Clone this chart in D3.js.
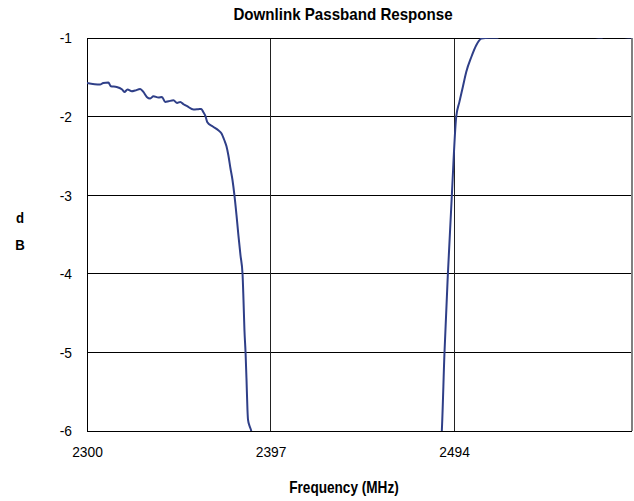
<!DOCTYPE html>
<html><head><meta charset="utf-8">
<script src="https://cdn.jsdelivr.net/npm/d3@7"></script>
<style>body{margin:0;background:#fff;} svg{display:block;}</style>
</head><body>
<svg id="c" width="634" height="501"></svg>
<script>
// ---- data ----
const xTickLabels = [2300, 2397, 2494];
const yTickLabels = [-1, -2, -3, -4, -5, -6];
// low-band edge (MHz, dB)
const lowFreq = [2300,2306.9,2308.6,2311.3,2312.6,2315.7,2318.4,2319.8,2321.4,2323.7,2325.4,2328.1,2329.8,2331.6,2333.4,2335.1,2337.8,2339.6,2341.3,2343.1,2345.7,2347.6,2349.3,2351.0,2352.9,2356.3,2358.8,2360.4,2361.5,2362.6,2363.6,2366.3,2369.4,2371.0,2372.6,2373.7,2374.7,2375.8,2376.9,2377.9,2379.0,2380.0,2381.1,2382.2,2382.7,2383.2,2383.8,2384.3,2384.8,2385.1,2385.9,2386.9,2387.5];
const lowDb = [-1.572,-1.592,-1.572,-1.567,-1.614,-1.623,-1.652,-1.686,-1.656,-1.678,-1.669,-1.648,-1.686,-1.750,-1.770,-1.741,-1.758,-1.750,-1.814,-1.805,-1.792,-1.826,-1.814,-1.843,-1.868,-1.910,-1.906,-1.903,-1.945,-1.995,-2.071,-2.123,-2.174,-2.212,-2.301,-2.377,-2.492,-2.657,-2.810,-3.000,-3.254,-3.508,-3.763,-4.004,-4.335,-4.716,-5.008,-5.351,-5.733,-5.860,-5.936,-6.013,-6.300];
// high-band edge (MHz, dB)
const highFreq = [2487.0,2487.5,2488.9,2490.7,2492.8,2495.1,2496.8,2498.6,2500.4,2503.1,2505.7,2508.4,2512.6,2516.3,2520,2530,2545,2560,2571.9,2574,2585,2588];
const highDb = [-6.200,-6.000,-5.008,-4.004,-3.000,-2.004,-1.813,-1.623,-1.432,-1.242,-1.093,-1.008,-0.996,-0.998,-0.960,-0.940,-0.930,-0.950,-0.995,-0.960,-0.990,-0.995];

// ---- layout ----
const svg = d3.select('#c');
const L = 87, R = 632, T = 38, B = 431;
const font = "'Liberation Sans',Arial,sans-serif";
const x = d3.scaleLinear().domain([2300, 2588]).range([L, R]);
const y = d3.scaleLinear().domain([-6, -1]).range([B, T]);

svg.append('defs').append('clipPath').attr('id','clip')
  .append('rect').attr('x', L).attr('y', T).attr('width', R - L).attr('height', B - T);

// gridlines
svg.append('g').selectAll('line').data(yTickLabels.slice(1,5)).join('line')
  .attr('x1', L).attr('x2', R).attr('y1', d => y(d)).attr('y2', d => y(d))
  .attr('stroke', '#000').attr('stroke-width', 1).attr('shape-rendering','crispEdges');
svg.append('g').selectAll('line').data(xTickLabels.slice(1)).join('line')
  .attr('x1', d => x(d)).attr('x2', d => x(d)).attr('y1', T).attr('y2', B)
  .attr('stroke', '#222').attr('stroke-width', 1).attr('shape-rendering','crispEdges');

// frame
svg.append('line').attr('x1', L).attr('x2', R).attr('y1', T).attr('y2', T).attr('stroke','#000').attr('shape-rendering','crispEdges');
svg.append('line').attr('x1', L).attr('x2', R).attr('y1', B).attr('y2', B).attr('stroke','#000').attr('shape-rendering','crispEdges');
svg.append('line').attr('x1', L).attr('x2', L).attr('y1', T).attr('y2', B).attr('stroke','#000').attr('shape-rendering','crispEdges');
svg.append('line').attr('x1', R).attr('x2', R).attr('y1', T).attr('y2', B).attr('stroke','#808080').attr('stroke-width',2).attr('shape-rendering','crispEdges');

// curves
const line = d3.line().x(d => x(d[0])).y(d => y(d[1])).curve(d3.curveMonotoneX);
const g = svg.append('g').attr('clip-path', 'url(#clip)');
[[lowFreq, lowDb], [highFreq, highDb]].forEach(([f, v]) => {
  g.append('path').datum(f.map((fi, i) => [fi, v[i]]))
    .attr('d', line).attr('fill', 'none').attr('stroke', '#2F3F88').attr('stroke-width', 2)
    .attr('stroke-linejoin','round');
});

// condensed text helper
function condense(sel, sx) {
  sel.each(function() {
    const t = d3.select(this);
    const bx = +t.attr('x') || 0, by = +t.attr('y') || 0;
    t.attr('transform', `translate(${bx},${by}) scale(${sx},1)`).attr('x', 0).attr('y', 0);
  });
}

// axes labels
const fmt = d => String(d);
const xAxis = d3.axisBottom(x).tickValues(xTickLabels).tickSize(0).tickPadding(16).tickFormat(fmt);
const gx = svg.append('g').attr('transform', `translate(0,${B})`).call(xAxis);
gx.select('.domain').remove();
gx.selectAll('text').attr('font-family', font).attr('font-size', 15).attr('fill', '#000')
  .attr('transform', 'translate(0,15) scale(0.92,1)').attr('y', 0).attr('dy', '0.71em');

const yAxis = d3.axisLeft(y).tickValues(yTickLabels).tickSize(0).tickPadding(15).tickFormat(fmt);
const gy = svg.append('g').attr('transform', `translate(${L},0)`).call(yAxis);
gy.select('.domain').remove();
gy.selectAll('text').attr('font-family', font).attr('font-size', 15).attr('fill', '#000')
  .attr('transform', 'translate(-15,0) scale(0.92,1)').attr('x', 0);

// titles
const title = svg.append('text').attr('x', 343).attr('y', 20).attr('text-anchor', 'middle')
  .attr('font-family', font).attr('font-weight', 'bold').attr('font-size', 17).text('Downlink Passband Response');
condense(title, 0.89);
const xt = svg.append('text').attr('x', 344).attr('y', 493).attr('text-anchor', 'middle')
  .attr('font-family', font).attr('font-weight', 'bold').attr('font-size', 16).text('Frequency (MHz)');
condense(xt, 0.85);
const d1 = svg.append('text').attr('x', 20).attr('y', 223).attr('text-anchor', 'middle')
  .attr('font-family', font).attr('font-weight', 'bold').attr('font-size', 15).text('d');
condense(d1, 0.88);
const b1 = svg.append('text').attr('x', 20).attr('y', 250).attr('text-anchor', 'middle')
  .attr('font-family', font).attr('font-weight', 'bold').attr('font-size', 15).text('B');
condense(b1, 0.88);
</script>
</body></html>
